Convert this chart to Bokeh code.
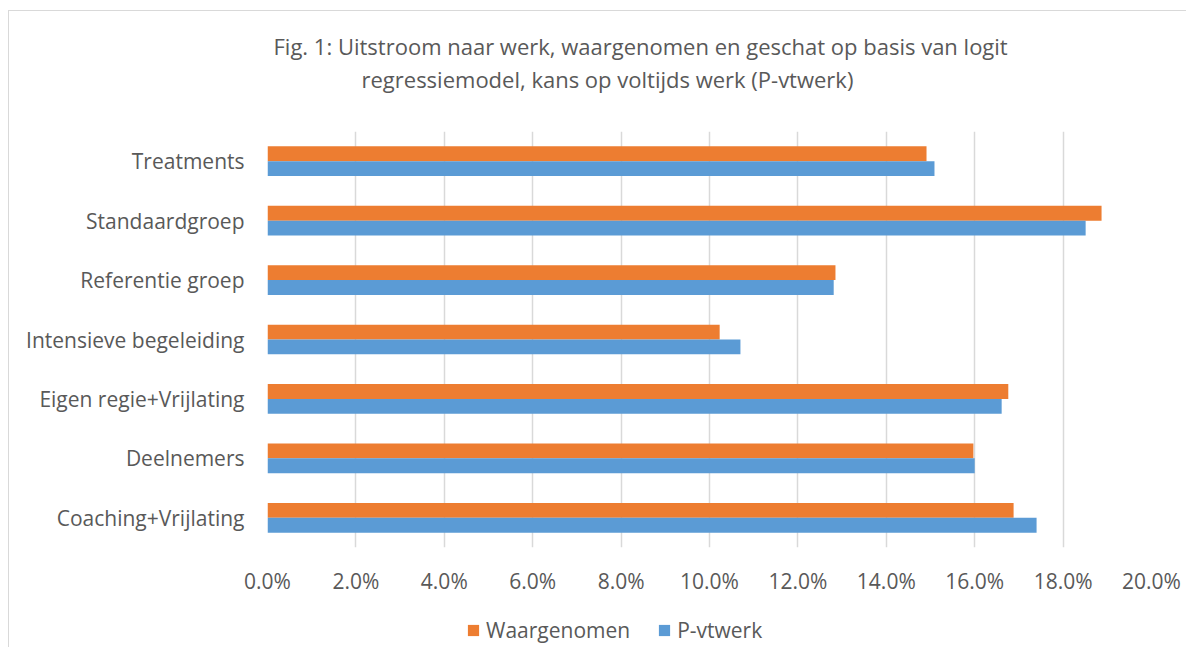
from bokeh.plotting import figure
from bokeh.layouts import column
from bokeh.models import ColumnDataSource, Legend, LegendItem, FixedTicker, Title, Range1d, FactorRange
from bokeh.transform import dodge
from bokeh.embed import file_html
from bokeh.resources import INLINE

categories = ["Coaching+Vrijlating", "Deelnemers", "Eigen regie+Vrijlating",
              "Intensieve begeleiding", "Referentie groep", "Standaardgroep", "Treatments"]
waargenomen = [16.88, 15.97, 16.76, 10.23, 12.85, 18.87, 14.91]
p_vtwerk = [17.40, 16.00, 16.61, 10.70, 12.81, 18.51, 15.09]
x_ticks = [0, 2, 4, 6, 8, 10, 12, 14, 16, 18, 20]
title_1 = "Fig. 1: Uitstroom naar werk, waargenomen en geschat op basis van logit"
title_2 = "regressiemodel, kans op voltijds werk (P-vtwerk)"
series_names = ["Waargenomen", "P-vtwerk"]

FONT = "Open Sans"
TXT = "#595959"
ORANGE = "#ED7D31"
BLUE = "#5B9BD5"

src = ColumnDataSource(dict(cat=categories, w=waargenomen, p=p_vtwerk))

p = figure(width=1177, height=589, y_range=categories, x_range=(0, 20),
           output_backend="svg", toolbar_location=None,
           min_border_left=258, min_border_right=35, min_border_top=120, min_border_bottom=53)
p.outline_line_color = None
p.background_fill_color = "white"
p.border_fill_color = "white"

p.hbar(y=dodge("cat", 0.125, range=p.y_range), right="w", left=0, height=0.25,
       source=src, fill_color=ORANGE, line_color=None)
p.hbar(y=dodge("cat", -0.125, range=p.y_range), right="p", left=0, height=0.25,
       source=src, fill_color=BLUE, line_color=None)

p.xaxis.ticker = FixedTicker(ticks=x_ticks)
p.xaxis.major_label_overrides = {t: f"{t:.1f}%" for t in x_ticks}
for ax in (p.xaxis[0], p.yaxis[0]):
    ax.axis_line_color = None
    ax.major_tick_line_color = None
    ax.minor_tick_line_color = None
    ax.major_tick_out = 0
    ax.major_tick_in = 0
    ax.minor_tick_out = 0
    ax.major_label_text_font = FONT
    ax.major_label_text_font_size = "21px"
    ax.major_label_text_color = TXT
p.xaxis.major_label_standoff = 19
p.yaxis.major_label_standoff = 23

p.ygrid.grid_line_color = None
p.xgrid.ticker = FixedTicker(ticks=x_ticks)
p.xgrid.grid_line_color = "#D9D9D9"
p.xgrid.grid_line_width = 1.5

# titles stacked outward from the frame: spacer, line 2, line 1
p.add_layout(Title(text=" ", text_font_size="1px", standoff=33), "above")
p.add_layout(Title(text=title_2, align="left", offset=94, vertical_align="middle", standoff=1,
                   text_font=FONT, text_font_size="22px", text_font_style="normal",
                   text_color=TXT), "above")
p.add_layout(Title(text=title_1, align="left", offset=6, vertical_align="middle", standoff=2,
                   text_font=FONT, text_font_size="22px", text_font_style="normal",
                   text_color=TXT), "above")

# legend strip below the chart (its zero-height bars only feed the legend swatches)
lg = figure(width=1177, height=47, x_range=Range1d(-2, -1), y_range=FactorRange(*categories),
            output_backend="svg", toolbar_location=None, min_border=0,
            x_axis_location=None, y_axis_location=None)
lg.outline_line_color = None
lg.grid.visible = False
l1 = lg.hbar(y="cat", right="w", left=0, height=0, source=src,
             fill_color=ORANGE, line_color=None)
l2 = lg.hbar(y="cat", right="p", left=0, height=0, source=src,
             fill_color=BLUE, line_color=None)
legend = Legend(items=[LegendItem(label=series_names[0], renderers=[l1]),
                       LegendItem(label=series_names[1], renderers=[l2])],
                orientation="horizontal", location=(199, 3),
                glyph_width=14, glyph_height=14, label_standoff=6, spacing=27,
                padding=0, margin=0, border_line_color=None, background_fill_alpha=0,
                label_text_font=FONT, label_text_font_size="21px", label_text_color=TXT)
lg.add_layout(legend, "center")

lay = column(p, lg, spacing=0)
lay.margin = (10, 0, 0, 8)
lay.styles = {"border-left": "1px solid #D9D9D9", "border-top": "1px solid #D9D9D9"}

open("out.html", "w").write(file_html(lay, INLINE))
